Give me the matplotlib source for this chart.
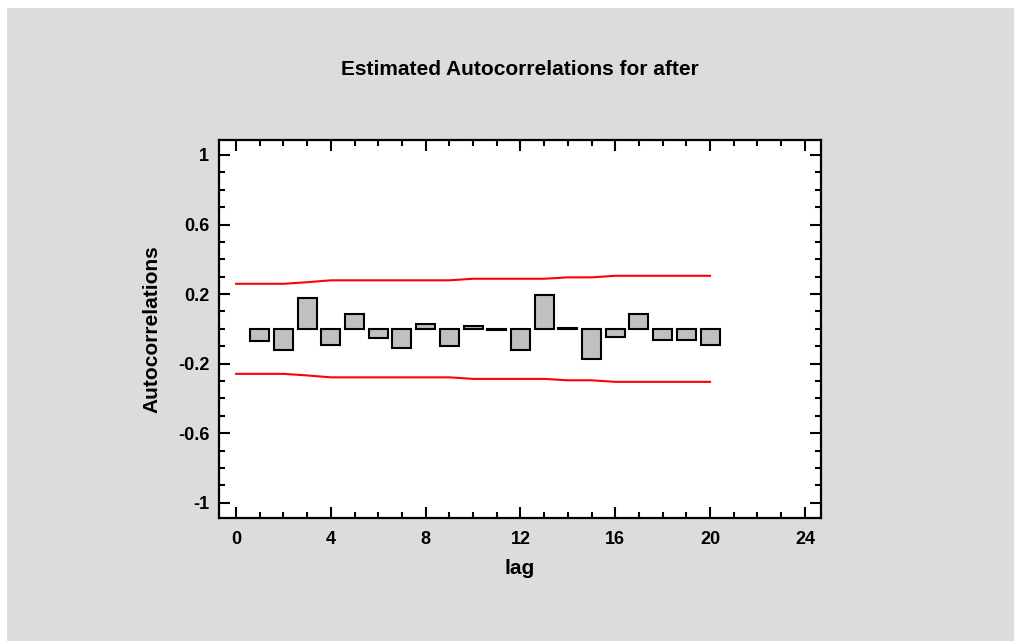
import numpy as np
import matplotlib
matplotlib.use("Agg")
import matplotlib.pyplot as plt
from matplotlib.patches import Rectangle
from matplotlib.ticker import MultipleLocator

# ---------------------------------------------------------------------------
# Data
# ---------------------------------------------------------------------------
lags = np.arange(1, 21)
acf = [-0.07, -0.12, 0.18, -0.093, 0.085, -0.055, -0.11, 0.03, -0.10, 0.017,
       -0.005, -0.12, 0.195, 0.002, -0.175, -0.045, 0.085, -0.065, -0.065, -0.094]

limit_lags = np.arange(0, 21)
upper_limit = [0.259, 0.259, 0.259, 0.268, 0.279, 0.279, 0.279, 0.279, 0.279, 0.279,
               0.288, 0.288, 0.288, 0.288, 0.296, 0.296, 0.305, 0.305, 0.305, 0.305, 0.305]
lower_limit = [-v for v in upper_limit]

x_ticks = [0, 4, 8, 12, 16, 20, 24]
y_ticks = [1, 0.6, 0.2, -0.2, -0.6, -1]
y_tick_labels = ["1", "0.6", "0.2", "-0.2", "-0.6", "-1"]

# ---------------------------------------------------------------------------
# Figure
# ---------------------------------------------------------------------------
BG = "#DCDCDC"
FONT = "Liberation Sans"

fig = plt.figure(figsize=(10.14, 6.41), dpi=100, facecolor="white")
fig.patches.append(Rectangle((7 / 1014, 0), 1, 1 - 8 / 641, transform=fig.transFigure,
                             facecolor=BG, edgecolor="none", zorder=-10))

ax = fig.add_axes([219 / 1014, 1 - 518 / 641, (821 - 219) / 1014, (518 - 140) / 641])
ax.set_facecolor("white")

ax.bar(lags, acf, width=0.8, color="#C0C0C0", edgecolor="black", linewidth=1.5, zorder=3)
ax.plot(limit_lags, upper_limit, color="#FF0000", lw=1.5, zorder=2)
ax.plot(limit_lags, lower_limit, color="#FF0000", lw=1.5, zorder=2)

ax.set_xlim(-0.72, 24.68)
ax.set_ylim(-1.088, 1.086)

ax.set_xticks(x_ticks)
ax.set_xticklabels([str(t) for t in x_ticks])
ax.set_yticks(y_ticks)
ax.set_yticklabels(y_tick_labels)
ax.xaxis.set_minor_locator(MultipleLocator(1))
ax.yaxis.set_minor_locator(MultipleLocator(0.1))

for sp in ax.spines.values():
    sp.set_linewidth(1.6)
    sp.set_color("black")

ax.tick_params(which="both", direction="in", top=True, right=True, width=1.5, color="black")
ax.tick_params(which="major", length=8, labelsize=13)
ax.tick_params(axis="x", which="major", pad=9)
ax.tick_params(axis="y", which="major", pad=7)
ax.tick_params(which="minor", length=4)
for lbl in ax.get_xticklabels() + ax.get_yticklabels():
    lbl.set_fontfamily(FONT)
    lbl.set_fontweight("bold")

ax.set_xlabel("lag", fontsize=15, fontweight="bold", fontfamily=FONT, labelpad=8)
ax.set_ylabel("Autocorrelations", fontsize=15, fontweight="bold", fontfamily=FONT, labelpad=12)
ax.set_title("Estimated Autocorrelations for after", fontsize=15, fontweight="bold",
             fontfamily=FONT, pad=47)

fig.savefig("out.png", dpi=100, facecolor=fig.get_facecolor())
